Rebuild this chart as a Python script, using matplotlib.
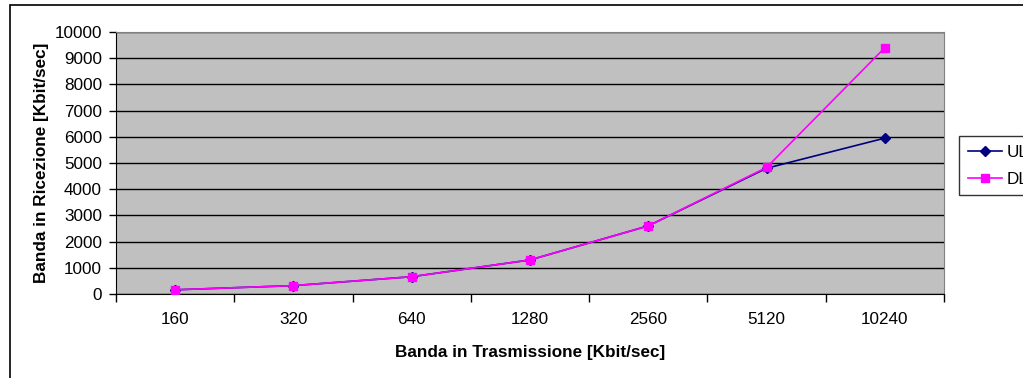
import matplotlib
matplotlib.use('Agg')

import matplotlib.pyplot as plt
import numpy as np
from matplotlib.patches import Rectangle

plt.rcParams['font.family'] = ['Liberation Sans', 'DejaVu Sans']

# transmit bandwidth categories and measured receive bandwidth
categories = ['160', '320', '640', '1280', '2560', '5120', '10240']
ul = [160, 320, 660, 1300, 2600, 4800, 5950]
dl = [160, 320, 660, 1300, 2600, 4830, 9400]
yticks = np.arange(0, 10001, 1000)

W, H = 1023, 378
fs = 12.3
fig = plt.figure(figsize=(W / 100, H / 100), dpi=100)

# outer chart border (runs off the right and bottom edges)
fig.patches.append(Rectangle((10 / W, -0.1), 1.2, 1.1 - 5 / H,
                             transform=fig.transFigure, fill=False,
                             edgecolor='black', linewidth=1.2))

ax = fig.add_axes([116 / W, 1 - 294 / H, (944 - 116) / W, (294 - 32) / H])
ax.set_facecolor('#C0C0C0')

x = np.arange(len(categories))
ax.plot(x, ul, color='#000080', marker='D', markersize=5, linewidth=1.2,
        label='UL', zorder=3)
ax.plot(x, dl, color='#FF00FF', marker='s', markersize=6, linewidth=1.2,
        label='DL', zorder=4)

ax.set_xlim(-0.5, len(categories) - 0.5)
ax.set_ylim(0, 10000)
ax.set_yticks(yticks)
ax.yaxis.grid(True, color='black', linewidth=1)
ax.set_axisbelow(True)

# category ticks sit between the categories
ax.set_xticks(np.arange(-0.5, len(categories), 1))
ax.set_xticklabels([])
ax.set_xticks(x, minor=True)
ax.set_xticklabels(categories, minor=True)
ax.tick_params(axis='x', which='major', length=6, width=1, direction='out')
ax.tick_params(axis='x', which='minor', length=0, pad=13, labelsize=fs)
ax.tick_params(axis='y', length=5, width=1, direction='out', labelsize=fs,
               pad=5)

for side in ['top', 'right']:
    ax.spines[side].set_color('#808080')
for side in ['left', 'bottom']:
    ax.spines[side].set_color('black')

ax.set_xlabel('Banda in Trasmissione [Kbit/sec]', fontsize=fs,
              fontweight='bold', labelpad=13)
ax.set_ylabel('Banda in Ricezione [Kbit/sec]', fontsize=fs,
              fontweight='bold', labelpad=4)

leg = fig.legend(loc='upper left', bbox_to_anchor=(959 / W, 1 - 136 / H),
                 fontsize=fs, frameon=True, fancybox=False, handlelength=2.0,
                 borderpad=0.5, labelspacing=0.7, handletextpad=0.3,
                 borderaxespad=0)
leg.get_frame().set_edgecolor('black')
leg.get_frame().set_linewidth(1)

fig.savefig('out.png', dpi=100)
